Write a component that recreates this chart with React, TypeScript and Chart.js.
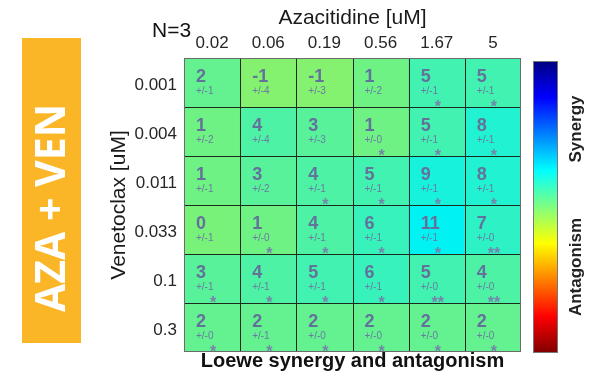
import React, { useEffect, useRef } from 'react';
import { Chart, registerables } from 'chart.js';

Chart.register(...registerables);

const azacitidine = ['0.02', '0.06', '0.19', '0.56', '1.67', '5'];
const venetoclax = ['0.001', '0.004', '0.011', '0.033', '0.1', '0.3'];
const synergy = [
  [2, -1, -1, 1, 5, 5],
  [1, 4, 3, 1, 5, 8],
  [1, 3, 4, 5, 9, 8],
  [0, 1, 4, 6, 11, 7],
  [3, 4, 5, 6, 5, 4],
  [2, 2, 2, 2, 2, 2],
];
const errors = [
  [1, 4, 3, 2, 1, 1],
  [2, 4, 3, 0, 1, 1],
  [1, 2, 1, 1, 1, 1],
  [1, 0, 1, 1, 1, 0],
  [1, 1, 1, 1, 0, 0],
  [0, 1, 0, 0, 0, 0],
];
const stars = [
  [0, 0, 0, 0, 1, 1],
  [0, 0, 0, 1, 1, 1],
  [0, 0, 1, 1, 1, 1],
  [0, 1, 1, 1, 1, 2],
  [1, 1, 1, 1, 2, 2],
  [1, 1, 1, 1, 1, 1],
];
const colorRange = 44;

const FONT = '"Liberation Sans", Arial, sans-serif';

function jet(t: number): string {
  const c = (v: number) => Math.max(0, Math.min(1, v));
  const r = c(Math.min(4 * t - 1.5, -4 * t + 4.5));
  const g = c(Math.min(4 * t - 0.5, -4 * t + 3.5));
  const b = c(Math.min(4 * t + 0.5, -4 * t + 2.5));
  const k = 0.95;
  return `rgb(${Math.round(r * 255 * k)},${Math.round(g * 255 * k)},${Math.round(b * 255 * k)})`;
}
const valueColor = (v: number) => jet(0.5 - v / (2 * colorRange));

const overlay = {
  id: 'overlay',
  afterDatasetsDraw(chart: any) {
    const { ctx, chartArea, scales } = chart;
    const { left, right, top, bottom } = chartArea;
    const x = scales.x;
    const y = scales.y;
    ctx.save();
    // cell grid lines
    ctx.strokeStyle = '#1c2a1c';
    ctx.lineWidth = 1;
    ctx.beginPath();
    for (let i = 1; i < azacitidine.length; i++) {
      const px = Math.round((x.getPixelForValue(i - 1) + x.getPixelForValue(i)) / 2) + 0.5;
      ctx.moveTo(px, top);
      ctx.lineTo(px, bottom);
    }
    for (let i = 1; i < venetoclax.length; i++) {
      const py = Math.round(y.getPixelForValue(i)) + 0.5;
      ctx.moveTo(left, py);
      ctx.lineTo(right, py);
    }
    ctx.stroke();
    ctx.strokeStyle = '#6b6b6b';
    ctx.strokeRect(left + 0.5, top + 0.5, right - left - 1, bottom - top - 1);

    // cell texts
    const cellW = x.getPixelForValue(1) - x.getPixelForValue(0);
    for (let r = 0; r < venetoclax.length; r++) {
      const cellTop = y.getPixelForValue(r);
      for (let c = 0; c < azacitidine.length; c++) {
        const cx = x.getPixelForValue(c);
        const cl = cx - cellW / 2;
        ctx.textBaseline = 'alphabetic';
        ctx.textAlign = 'left';
        ctx.fillStyle = '#63729b';
        ctx.font = `bold 18px ${FONT}`;
        ctx.fillText(String(synergy[r][c]), cl + 12, cellTop + 24);
        ctx.fillStyle = '#6b7aa3';
        ctx.font = `10px ${FONT}`;
        ctx.fillText('+/-' + errors[r][c], cl + 12, cellTop + 36);
        if (stars[r][c] > 0) {
          ctx.fillStyle = '#7484ab';
          ctx.font = `bold 16px ${FONT}`;
          ctx.textAlign = 'center';
          ctx.fillText('*'.repeat(stars[r][c]), cx + 1, cellTop + 54);
        }
      }
    }

    // N=3
    ctx.fillStyle = '#111';
    ctx.textAlign = 'left';
    ctx.textBaseline = 'alphabetic';
    ctx.font = `21px ${FONT}`;
    ctx.fillText('N=3', 152, 37);

    // bottom title
    ctx.textAlign = 'center';
    ctx.font = `bold 20px ${FONT}`;
    ctx.fillText('Loewe synergy and antagonism', (left + right) / 2, 367);

    // colour bar
    const cbX = 533, cbY = 61, cbW = 25, cbH = 292;
    const grad = ctx.createLinearGradient(0, cbY, 0, cbY + cbH);
    grad.addColorStop(0, 'rgb(0,0,128)');
    grad.addColorStop(1 / 8, 'rgb(0,0,255)');
    grad.addColorStop(3 / 8, 'rgb(0,255,255)');
    grad.addColorStop(5 / 8, 'rgb(255,255,0)');
    grad.addColorStop(7 / 8, 'rgb(255,0,0)');
    grad.addColorStop(1, 'rgb(128,0,0)');
    ctx.fillStyle = grad;
    ctx.fillRect(cbX, cbY, cbW, cbH);
    ctx.strokeStyle = '#777';
    ctx.strokeRect(cbX + 0.5, cbY + 0.5, cbW - 1, cbH - 1);

    const vText = (txt: string, cx: number, cy: number, font: string, color: string) => {
      ctx.save();
      ctx.translate(cx, cy);
      ctx.rotate(-Math.PI / 2);
      ctx.textAlign = 'center';
      ctx.textBaseline = 'middle';
      ctx.font = font;
      ctx.fillStyle = color;
      ctx.fillText(txt, 0, 0);
      ctx.restore();
    };
    vText('Synergy', 576, 129, `bold 17px ${FONT}`, '#222');
    vText('Antagonism', 576, 267, `bold 17px ${FONT}`, '#222');

    // orange label box
    ctx.fillStyle = '#fbb627';
    ctx.fillRect(22, 38, 59, 305);
    vText('AZA + VEN', 53, 208, `bold 41px "Open Sans", ${FONT}`, '#ffffff');

    ctx.restore();
  },
};

export default function App() {
  const ref = useRef<HTMLCanvasElement | null>(null);
  useEffect(() => {
    if (!ref.current) return;
    const datasets = venetoclax.map((label, r) => ({
      label,
      data: azacitidine.map(() => [r, r + 1]),
      backgroundColor: synergy[r].map(valueColor),
      borderWidth: 0,
      barPercentage: 1,
      categoryPercentage: 1,
      grouped: false,
    }));
    const chart = new Chart(ref.current, {
      type: 'bar',
      data: { labels: azacitidine, datasets: datasets as any },
      options: {
        responsive: false,
        devicePixelRatio: 1,
        animation: false,
        layout: { padding: { top: 0, left: 0, right: 79, bottom: 19 } },
        plugins: { legend: { display: false }, tooltip: { enabled: false }, title: { display: false } },
        scales: {
          x: {
            type: 'category',
            position: 'top',
            offset: true,
            grid: { display: false, drawTicks: false },
            border: { display: false },
            ticks: {
              autoSkip: false,
              maxRotation: 0,
              padding: 4,
              color: '#262626',
              font: { family: FONT, size: 17 },
            },
            title: {
              display: true,
              text: 'Azacitidine [uM]',
              color: '#1a1a1a',
              font: { family: FONT, size: 21 },
              padding: { top: 6, bottom: 0 },
            },
            afterFit: (s: any) => { s.height = 58; },
          },
          y: {
            type: 'linear',
            min: 0,
            max: 6,
            reverse: true,
            grid: { display: false, drawTicks: false },
            border: { display: false },
            afterBuildTicks: (s: any) => {
              s.ticks = venetoclax.map((_, i) => ({ value: i + 0.55 }));
            },
            ticks: {
              padding: 7,
              color: '#262626',
              font: { family: FONT, size: 17 },
              callback: (_v: any, i: number) => venetoclax[i],
            },
            title: {
              display: true,
              text: 'Venetoclax [uM]',
              color: '#1a1a1a',
              font: { family: FONT, size: 21 },
              padding: { top: 107, bottom: 0 },
            },
            afterFit: (s: any) => { s.width = 184; },
          },
        },
      } as any,
      plugins: [overlay],
    });
    return () => chart.destroy();
  }, []);
  return (
    <div style={{ position: 'absolute', left: 0, top: 0, width: 600, height: 371, background: '#fff' }}>
      <canvas ref={ref} width={600} height={371} style={{ display: 'block' }} />
    </div>
  );
}
